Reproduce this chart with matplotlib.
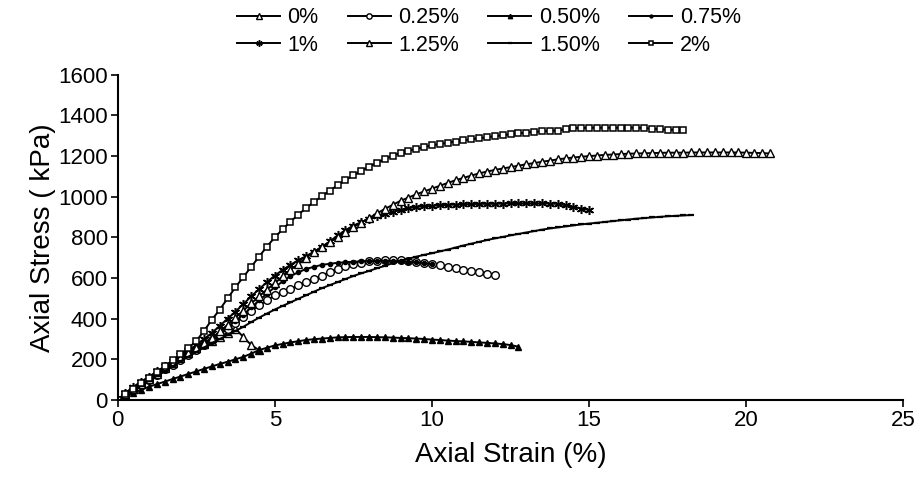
import matplotlib
matplotlib.use("Agg")
import matplotlib.pyplot as plt

plt.rcParams['font.family'] = ['Liberation Sans', 'DejaVu Sans']

# common strain grid (%) the curves were read at
strain = [0, 0.25, 0.5, 0.75, 1.0, 1.25, 1.5, 1.75, 2.0, 2.25, 2.5, 2.75, 3.0, 3.25,
          3.5, 3.75, 4.0, 4.25, 4.5, 4.75, 5.0, 5.25, 5.5, 5.75, 6.0, 6.25, 6.5, 6.75,
          7.0, 7.25, 7.5, 7.75, 8.0, 8.25, 8.5, 8.75, 9.0, 9.25, 9.5, 9.75, 10.0, 10.25,
          10.5, 10.75, 11.0, 11.25, 11.5, 11.75, 12.0, 12.25, 12.5, 12.75, 13.0, 13.25,
          13.5, 13.75, 14.0, 14.25, 14.5, 14.75, 15.0, 15.25, 15.5, 15.75, 16.0, 16.25,
          16.5, 16.75, 17.0, 17.25, 17.5, 17.75, 18.0, 18.25, 18.5, 18.75, 19.0, 19.25,
          19.5, 19.75, 20.0, 20.25, 20.5, 20.75]

# axial stress (kPa) per fibre content
stress_0 = [0, 28, 55, 83, 110, 135, 160, 185, 210, 233, 255, 273, 290, 310, 330, 350,
            310, 270, 245]

stress_025 = [0, 25, 50, 75, 100, 125, 150, 173, 195, 220, 245, 270, 295, 322, 350, 380,
              410, 438, 465, 490, 515, 530, 545, 565, 580, 595, 612, 630, 645, 657, 668,
              676, 682, 685, 688, 688, 688, 684, 680, 674, 668, 662, 655, 648, 640, 634,
              628, 622, 615]

stress_050 = [0, 18, 35, 50, 65, 78, 90, 103, 115, 128, 140, 153, 165, 177, 188, 200,
              212, 228, 245, 257, 268, 276, 283, 289, 295, 299, 302, 305, 308, 309, 310,
              310, 310, 309, 308, 307, 305, 304, 302, 300, 297, 295, 292, 290, 288, 286,
              283, 281, 278, 275, 270, 262]

stress_075 = [0, 28, 55, 80, 105, 130, 155, 180, 205, 230, 255, 280, 305, 332, 360, 390,
              420, 455, 490, 523, 555, 583, 610, 628, 645, 655, 665, 670, 675, 678, 680,
              682, 683, 684, 685, 684, 683, 680, 677, 673, 668]

stress_1 = [0, 35, 65, 90, 115, 140, 165, 192, 220, 245, 270, 300, 330, 365, 400, 435,
            472, 510, 545, 580, 612, 640, 665, 688, 708, 730, 752, 780, 810, 835, 858,
            875, 890, 903, 915, 925, 935, 943, 950, 953, 955, 958, 960, 961, 962, 964,
            965, 965, 965, 966, 967, 967, 967, 967, 967, 966, 965, 958, 950, 942, 935]

stress_125 = [0, 28, 55, 80, 105, 130, 155, 180, 205, 230, 255, 280, 305, 337, 370, 405,
              440, 475, 510, 543, 575, 608, 640, 670, 700, 728, 755, 778, 800, 825, 850,
              873, 895, 918, 940, 960, 980, 996, 1012, 1026, 1040, 1054, 1068, 1081, 1093,
              1104, 1115, 1124, 1132, 1139, 1146, 1153, 1160, 1166, 1172, 1178, 1184, 1189,
              1193, 1197, 1200, 1203, 1206, 1208, 1210, 1212, 1213, 1214, 1215, 1216, 1217,
              1217, 1217, 1218, 1218, 1218, 1218, 1218, 1218, 1218, 1217, 1216, 1215, 1213]

stress_150 = [0, 22, 45, 70, 95, 118, 140, 165, 190, 213, 235, 258, 280, 300, 320, 340,
              360, 383, 405, 425, 445, 463, 480, 498, 515, 533, 550, 565, 580, 595, 610,
              623, 635, 648, 660, 673, 685, 695, 705, 714, 722, 731, 740, 750, 760, 769,
              778, 787, 795, 802, 810, 817, 824, 831, 838, 844, 849, 854, 859, 864, 868,
              872, 876, 880, 884, 888, 892, 895, 898, 901, 904, 906, 908, 910]

stress_2 = [0, 28, 55, 82, 110, 137, 165, 195, 225, 255, 290, 340, 395, 445, 500, 555,
            605, 655, 705, 755, 800, 840, 878, 912, 945, 975, 1003, 1030, 1057, 1082, 1105,
            1127, 1148, 1167, 1185, 1202, 1215, 1226, 1236, 1245, 1253, 1260, 1266, 1272,
            1278, 1283, 1288, 1293, 1298, 1303, 1308, 1312, 1316, 1319, 1322, 1324, 1326,
            1333, 1338, 1339, 1340, 1340, 1340, 1340, 1340, 1340, 1340, 1338, 1335, 1332,
            1330, 1329, 1328]

fig = plt.figure(figsize=(9.19, 4.83), dpi=100)
ax = fig.add_axes([0.128, 0.172, 0.855, 0.673])


def curve(stress, **kw):
    return ax.plot(strain[:len(stress)], stress, color='black', lw=1.4, **kw)[0]


lines = {}
lines['0%'] = curve(stress_0, marker='^', ms=5.5, mfc='white', mec='black', mew=1.0)
lines['0.25%'] = curve(stress_025, marker='o', ms=5.5, mfc='white', mec='black', mew=1.0)
lines['0.50%'] = curve(stress_050, marker='^', ms=4.5, mfc='black', mec='black')
lines['0.75%'] = curve(stress_075, marker='o', ms=3, mfc='black', mec='black')
lines['1%'] = curve(stress_1, marker=(6, 2, 0), ms=6.5, mec='black', mew=1.1)
lines['1.25%'] = curve(stress_125, marker='^', ms=5.5, mfc='white', mec='black', mew=1.0)
lines['1.50%'] = curve(stress_150, marker='_', ms=4, mec='black', mew=1.6)
lines['2%'] = curve(stress_2, marker='s', ms=3.8, mfc='white', mec='black', mew=1.1)

ax.set_xlim(0, 25)
ax.set_ylim(0, 1600)
ax.set_xticks([0, 5, 10, 15, 20, 25])
ax.set_yticks(range(0, 1601, 200))
ax.spines['right'].set_visible(False)
ax.spines['top'].set_visible(False)
ax.spines['left'].set_linewidth(1.5)
ax.spines['bottom'].set_linewidth(1.5)
ax.tick_params(direction='out', length=5, width=1.2, labelsize=16, pad=2)
ax.set_xlabel('Axial Strain (%)', fontsize=20, labelpad=8)
ax.set_ylabel('Axial Stress ( kPa)', fontsize=20, labelpad=2)

# legend fills column-major, so order entries to get two rows of four
order = ['0%', '1%', '0.25%', '1.25%', '0.50%', '1.50%', '0.75%', '2%']
fig.legend([lines[k] for k in order], order, ncol=4, loc='upper center',
           bbox_to_anchor=(0.532, 1.025), frameon=False, fontsize=15.5, markerscale=0.7,
           handlelength=2.0, columnspacing=1.35, handletextpad=0.35, labelspacing=0.3)

fig.savefig('out.png', dpi=100)
